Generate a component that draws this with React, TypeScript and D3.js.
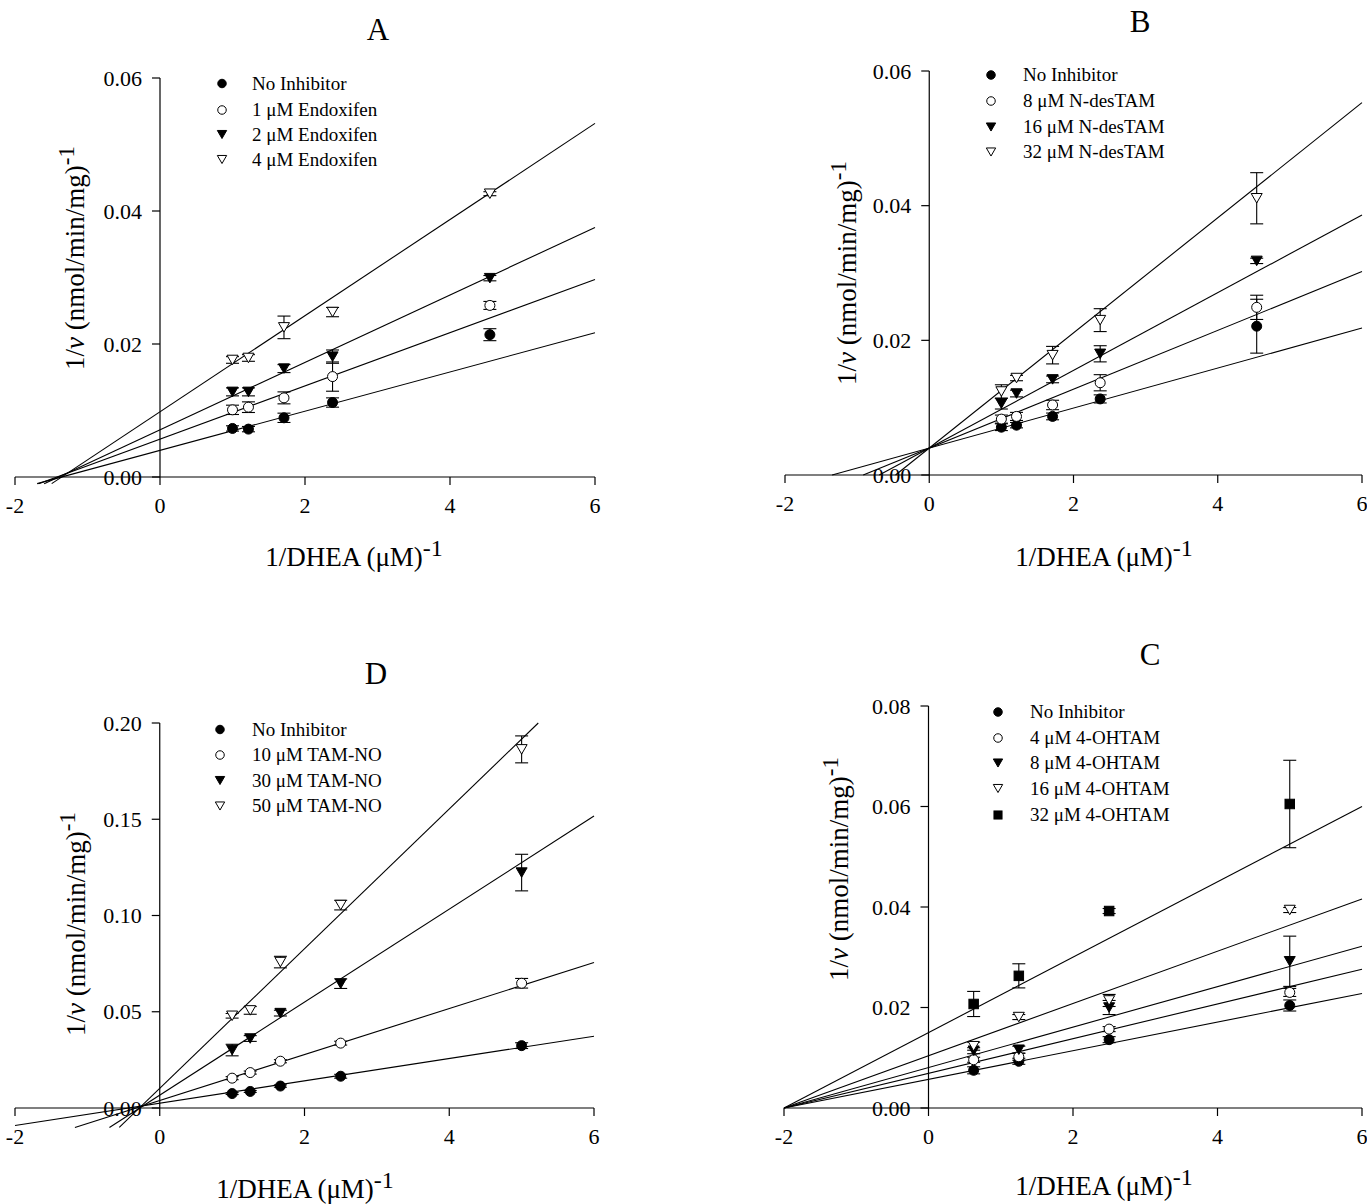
import React from 'react';
import * as d3 from 'd3';

const FONT = "'Liberation Serif', 'Times New Roman', Times, serif";

const X_TICKS = [-2, 0, 2, 4, 6];

// ---------- Panel A : Endoxifen ----------
const xA = [1.0, 1.22, 1.71, 2.38, 4.55];
const namesA = ['No Inhibitor', '1 μM Endoxifen', '2 μM Endoxifen', '4 μM Endoxifen'];
const meanA = [
  [0.0073, 0.0072, 0.0089, 0.0112, 0.0214],
  [0.0101, 0.0105, 0.0119, 0.0151, 0.0258],
  [0.0128, 0.0128, 0.0163, 0.0181, 0.0299],
  [0.0176, 0.0179, 0.0225, 0.0248, 0.0426],
];
const errA = [
  [0.0004, 0.0004, 0.0007, 0.0007, 0.0009],
  [0.0007, 0.0008, 0.0009, 0.0022, 0.0006],
  [0.0006, 0.0006, 0.0006, 0.0010, 0.0004],
  [0.0005, 0.0005, 0.0017, 0.0007, 0.0003],
];
const interceptA = [0.0040, 0.0057, 0.0071, 0.0098];
const slopeA = [0.00295, 0.0040, 0.00507, 0.00723];
const yTicksA = [0, 0.02, 0.04, 0.06];

// ---------- Panel B : N-desTAM ----------
const xB = [1.0, 1.21, 1.71, 2.37, 4.54];
const namesB = ['No Inhibitor', '8 μM N-desTAM', '16 μM N-desTAM', '32 μM N-desTAM'];
const meanB = [
  [0.0071, 0.0074, 0.0087, 0.0113, 0.0221],
  [0.0083, 0.0087, 0.0104, 0.0137, 0.0249],
  [0.0106, 0.0121, 0.0142, 0.0180, 0.0318],
  [0.0124, 0.0144, 0.0178, 0.0230, 0.0411],
];
const errB = [
  [0.0005, 0.0004, 0.0005, 0.0006, 0.0040],
  [0.0006, 0.0006, 0.0007, 0.0012, 0.0018],
  [0.0008, 0.0005, 0.0005, 0.0012, 0.0004],
  [0.0010, 0.0004, 0.0013, 0.0017, 0.0038],
];
const interceptB = [0.0040, 0.0040, 0.0040, 0.0040];
const slopeB = [0.00297, 0.00437, 0.00577, 0.00855];
const yTicksB = [0, 0.02, 0.04, 0.06];

// ---------- Panel C : 4-OHTAM ----------
const xC = [0.625, 1.25, 2.5, 5.0];
const namesC = ['No Inhibitor', '4 μM 4-OHTAM', '8 μM 4-OHTAM', '16 μM 4-OHTAM', '32 μM 4-OHTAM'];
const meanC = [
  [0.0075, 0.0093, 0.0136, 0.0204],
  [0.0096, 0.0102, 0.0157, 0.0230],
  [0.0114, 0.0116, 0.0200, 0.0292],
  [0.0123, 0.0181, 0.0214, 0.0394],
  [0.0207, 0.0263, 0.0392, 0.0605],
];
const errC = [
  [0.0007, 0.0006, 0.0006, 0.0011],
  [0.0005, 0.0007, 0.0005, 0.0008],
  [0.0006, 0.0007, 0.0014, 0.0050],
  [0.0008, 0.0005, 0.0012, 0.0005],
  [0.0025, 0.0024, 0.0005, 0.0087],
];
const interceptC = [0.0057, 0.0069, 0.00805, 0.0104, 0.0150];
const slopeC = [0.00285, 0.00345, 0.004025, 0.0052, 0.0075];
const yTicksC = [0, 0.02, 0.04, 0.06, 0.08];

// ---------- Panel D : TAM-NO ----------
const xD = [1.0, 1.25, 1.667, 2.5, 5.0];
const namesD = ['No Inhibitor', '10 μM TAM-NO', '30 μM TAM-NO', '50 μM TAM-NO'];
const meanD = [
  [0.0075, 0.0086, 0.0114, 0.0165, 0.0324],
  [0.0155, 0.0184, 0.0243, 0.0337, 0.0648],
  [0.0301, 0.0361, 0.0493, 0.0646, 0.1223],
  [0.0479, 0.0507, 0.0758, 0.1054, 0.1863],
];
const errD = [
  [0.0005, 0.0005, 0.0006, 0.0010, 0.0015],
  [0.0008, 0.0008, 0.0008, 0.0010, 0.0025],
  [0.0030, 0.0015, 0.0015, 0.0025, 0.0095],
  [0.0012, 0.0020, 0.0030, 0.0025, 0.0070],
];
const interceptD = [0.0025, 0.0039, 0.0067, 0.0102];
const slopeD = [0.0058, 0.01194, 0.02416, 0.03629];
const yTicksD = [0, 0.05, 0.10, 0.15, 0.20];

const SHAPES = ['filledCircle', 'openCircle', 'filledTri', 'openTri', 'filledSquare'];

type PanelCfg = {
  title: string;
  titlePos: [number, number];
  xPx: [number, number];
  yPx: [number, number];
  yTicks: number[];
  yLow: number;
  x: number[];
  names: string[];
  mean: number[][];
  err: number[][];
  intercept: number[];
  slope: number[];
  legendX: [number, number];
  legendY: number[];
  yTitle: [number, number];
  xTitle: [number, number];
};

const panels: PanelCfg[] = [
  {
    title: 'A', titlePos: [378, 40], xPx: [15, 595], yPx: [477, 78], yTicks: yTicksA, yLow: -0.001,
    x: xA, names: namesA, mean: meanA, err: errA, intercept: interceptA, slope: slopeA,
    legendX: [222, 252], legendY: [83.5, 110, 134.5, 159.5], yTitle: [75, 258], xTitle: [354, 566],
  },
  {
    title: 'B', titlePos: [1140, 32], xPx: [785, 1362], yPx: [475, 71], yTicks: yTicksB, yLow: 0,
    x: xB, names: namesB, mean: meanB, err: errB, intercept: interceptB, slope: slopeB,
    legendX: [991, 1023], legendY: [75, 101, 127, 152], yTitle: [847, 273], xTitle: [1104, 566],
  },
  {
    title: 'D', titlePos: [376, 684], xPx: [15, 594], yPx: [1108, 723], yTicks: yTicksD, yLow: -0.0101,
    x: xD, names: namesD, mean: meanD, err: errD, intercept: interceptD, slope: slopeD,
    legendX: [220, 252], legendY: [729.5, 755, 780.5, 806], yTitle: [76, 924], xTitle: [305, 1198],
  },
  {
    title: 'C', titlePos: [1150, 665], xPx: [784, 1362], yPx: [1108, 706], yTicks: yTicksC, yLow: 0,
    x: xC, names: namesC, mean: meanC, err: errC, intercept: interceptC, slope: slopeC,
    legendX: [998, 1030], legendY: [712, 738, 763, 788.5, 815], yTitle: [839, 869], xTitle: [1104, 1195],
  },
];

function Marker({ shape, cx, cy, size }: { shape: string; cx: number; cy: number; size: number }) {
  const filled = shape.startsWith('filled');
  const fill = filled ? '#000' : '#fff';
  if (shape.endsWith('Circle')) {
    return <circle cx={cx} cy={cy} r={size / 2} fill={fill} stroke="#000" strokeWidth={1} />;
  }
  if (shape.endsWith('Tri')) {
    const w = size * 1.1;
    const h = size * 0.95;
    const p = d3.path();
    p.moveTo(cx - w / 2, cy - h / 2);
    p.lineTo(cx + w / 2, cy - h / 2);
    p.lineTo(cx, cy + h / 2);
    p.closePath();
    return <path d={p.toString()} fill={fill} stroke="#000" strokeWidth={1} />;
  }
  const s = size * 0.95;
  return <rect x={cx - s / 2} y={cy - s / 2} width={s} height={s} fill={fill} stroke="#000" strokeWidth={1} />;
}

function Panel({ cfg }: { cfg: PanelCfg }) {
  const yMax = cfg.yTicks[cfg.yTicks.length - 1];
  const xs = d3.scaleLinear().domain([-2, 6]).range(cfg.xPx);
  const ys = d3.scaleLinear().domain([0, yMax]).range(cfg.yPx);
  const fmt = d3.format('.2f');
  const line = d3.line<[number, number]>().x((d) => xs(d[0])).y((d) => ys(d[1]));
  const x0 = xs(0);
  const yb = ys(0);

  return (
    <g>
      <text x={cfg.titlePos[0]} y={cfg.titlePos[1]} fontSize={31} textAnchor="middle" fontFamily={FONT}>
        {cfg.title}
      </text>

      {/* fitted lines */}
      {cfg.intercept.map((a, i) => {
        const b = cfg.slope[i];
        const xa = Math.max(-2, (cfg.yLow - a) / b);
        const xb = Math.min(6, (yMax - a) / b);
        const pts: [number, number][] = [
          [xa, a + b * xa],
          [xb, a + b * xb],
        ];
        return <path key={'l' + i} d={line(pts) || ''} fill="none" stroke="#000" strokeWidth={1.1} />;
      })}

      {/* axes */}
      <line x1={xs(-2)} x2={xs(6)} y1={yb} y2={yb} stroke="#000" strokeWidth={1.2} />
      <line x1={x0} x2={x0} y1={yb} y2={ys(yMax)} stroke="#000" strokeWidth={1.2} />
      {X_TICKS.map((t) => (
        <g key={'xt' + t}>
          <line x1={xs(t)} x2={xs(t)} y1={yb} y2={yb + 8} stroke="#000" strokeWidth={1.2} />
          <text x={xs(t)} y={yb + 36} fontSize={22} textAnchor="middle" fontFamily={FONT}>
            {t < 0 ? '-' + Math.abs(t) : String(t)}
          </text>
        </g>
      ))}
      {cfg.yTicks.map((t) => (
        <g key={'yt' + t}>
          <line x1={x0 - 8} x2={x0} y1={ys(t)} y2={ys(t)} stroke="#000" strokeWidth={1.2} />
          <text x={x0 - 18} y={ys(t) + 7.5} fontSize={22} textAnchor="end" fontFamily={FONT}>
            {fmt(t)}
          </text>
        </g>
      ))}

      {/* error bars */}
      {cfg.mean.map((ser, si) =>
        ser.map((v, j) => {
          const e = cfg.err[si][j];
          const cx = xs(cfg.x[j]);
          return (
            <g key={'e' + si + '-' + j} stroke="#000" strokeWidth={1.1}>
              <line x1={cx} x2={cx} y1={ys(v - e)} y2={ys(v + e)} />
              <line x1={cx - 6.5} x2={cx + 6.5} y1={ys(v + e)} y2={ys(v + e)} />
              <line x1={cx - 6.5} x2={cx + 6.5} y1={ys(v - e)} y2={ys(v - e)} />
            </g>
          );
        })
      )}

      {/* markers */}
      {cfg.mean.map((ser, si) =>
        ser.map((v, j) => (
          <Marker key={'m' + si + '-' + j} shape={SHAPES[si]} cx={xs(cfg.x[j])} cy={ys(v)} size={10} />
        ))
      )}

      {/* legend */}
      {cfg.names.map((n, i) => (
        <g key={'lg' + i}>
          <Marker shape={SHAPES[i]} cx={cfg.legendX[0]} cy={cfg.legendY[i]} size={8.5} />
          <text x={cfg.legendX[1]} y={cfg.legendY[i] + 6} fontSize={19} fontFamily={FONT}>
            {n}
          </text>
        </g>
      ))}

      {/* y axis title */}
      <text
        transform={`translate(${cfg.yTitle[0] + 9},${cfg.yTitle[1]}) rotate(-90)`}
        fontSize={27}
        textAnchor="middle"
        fontFamily={FONT}
      >
        <tspan>1/</tspan>
        <tspan fontStyle="italic">ν</tspan>
        <tspan> (nmol/min/mg)</tspan>
        <tspan dy={-10} fontSize={23}>-1</tspan>
      </text>

      {/* x axis title */}
      <text x={cfg.xTitle[0]} y={cfg.xTitle[1]} fontSize={27} textAnchor="middle" fontFamily={FONT}>
        <tspan>1/DHEA (μM)</tspan>
        <tspan dy={-10} fontSize={24}>-1</tspan>
      </text>
    </g>
  );
}

export default function App() {
  return (
    <svg
      width={1367}
      height={1204}
      viewBox="0 0 1367 1204"
      style={{ position: 'absolute', left: 0, top: 0, background: '#fff' }}
    >
      <rect x={0} y={0} width={1367} height={1204} fill="#fff" />
      {panels.map((p) => (
        <Panel key={p.title} cfg={p} />
      ))}
    </svg>
  );
}
